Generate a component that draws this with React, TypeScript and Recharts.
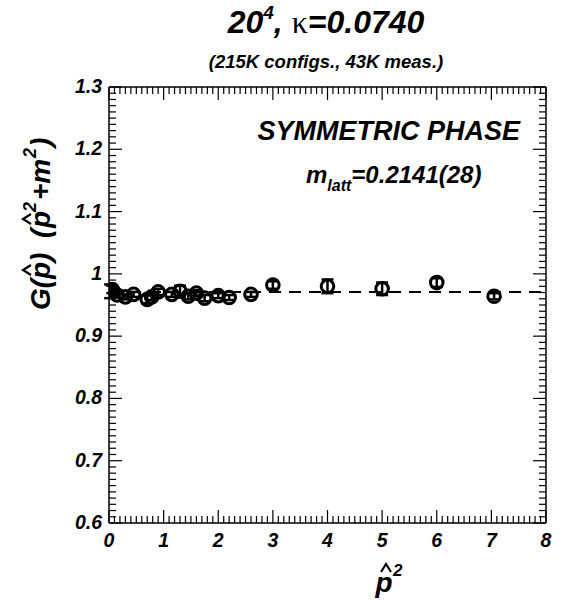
import React from 'react';
import {
  ComposedChart,
  Scatter,
  XAxis,
  YAxis,
  ReferenceLine,
  ErrorBar,
} from 'recharts';

// p-hat squared, G(p)(p^2+m^2) and its error
const p2 = [0.02, 0.06, 0.15, 0.3, 0.45, 0.7, 0.78, 0.9, 1.15, 1.3, 1.45, 1.6, 1.75, 2.0, 2.2, 2.6, 3.0, 4.0, 5.0, 6.0, 7.05];
const G = [0.972, 0.975, 0.966, 0.963, 0.967, 0.959, 0.963, 0.971, 0.967, 0.972, 0.964, 0.969, 0.961, 0.965, 0.962, 0.967, 0.982, 0.98, 0.976, 0.986, 0.964];
const dG = [0.011, 0.006, 0.004, 0.004, 0.004, 0.006, 0.005, 0.005, 0.004, 0.009, 0.005, 0.005, 0.005, 0.004, 0.004, 0.004, 0.006, 0.011, 0.010, 0.007, 0.005];
const fitValue = 0.971;

const xTickLabels = ['0', '1', '2', '3', '4', '5', '6', '7', '8'];
const yTickLabels = ['0.6', '0.7', '0.8', '0.9', '1', '1.1', '1.2', '1.3'];

const W = 562;
const H = 601;
const LEFT = 109;
const RIGHT = 546;
const TOP = 87;
const BOTTOM = 523;

const FONT = '"Liberation Sans", Arial, Helvetica, sans-serif';

const data = p2.map((x, i) => ({ x, y: G[i], err: dG[i] }));

// minor ticks every 0.1 on x, 0.01 on y
const xTicks = Array.from({ length: 81 }, (_, i) => i / 10);
const yTicks = Array.from({ length: 71 }, (_, i) => (60 + i) / 100);

function XTick(props: any) {
  const { x, payload } = props;
  const i = Math.round(payload.value * 10);
  const major = i % 10 === 0;
  const len = major ? 13 : 7;
  return (
    <g>
      <line x1={x} x2={x} y1={BOTTOM} y2={BOTTOM - len} stroke="#000" strokeWidth={1.2} />
      <line x1={x} x2={x} y1={TOP} y2={TOP + len} stroke="#000" strokeWidth={1.2} />
      {major && (
        <text x={x} y={BOTTOM + 24} textAnchor="middle" fontFamily={FONT} fontSize={19.5}
          fontWeight="bold" fontStyle="italic" fill="#000">
          {xTickLabels[i / 10]}
        </text>
      )}
    </g>
  );
}

function YTick(props: any) {
  const { y, payload } = props;
  const i = Math.round(payload.value * 100) - 60;
  const major = i % 10 === 0;
  const len = major ? 13 : 7;
  return (
    <g>
      <line x1={LEFT} x2={LEFT + len} y1={y} y2={y} stroke="#000" strokeWidth={1.2} />
      <line x1={RIGHT} x2={RIGHT - len} y1={y} y2={y} stroke="#000" strokeWidth={1.2} />
      {major && (
        <text x={LEFT - 7} y={y + 6} textAnchor="end" fontFamily={FONT} fontSize={19.5}
          fontWeight="bold" fontStyle="italic" fill="#000">
          {yTickLabels[i / 10]}
        </text>
      )}
    </g>
  );
}

function Marker(props: any) {
  const { cx, cy } = props;
  return <circle cx={cx} cy={cy} r={6.3} fill="none" stroke="#000" strokeWidth={3} />;
}

function Hat({ x, y }: { x: number; y: number }) {
  return (
    <polyline points={`${x - 5},${y + 8} ${x},${y} ${x + 5},${y + 8}`}
      fill="none" stroke="#000" strokeWidth={2.2} />
  );
}

const bi = { fontFamily: FONT, fontWeight: 'bold' as const, fontStyle: 'italic' as const, fill: '#000' };

function Labels() {
  return (
    <svg width={W} height={H} style={{ position: 'absolute', left: 0, top: 0, pointerEvents: 'none' }}>
      <text x={326} y={33} textAnchor="middle" fontSize={32} {...bi}>
        20<tspan dy={-14} fontSize={19}>4</tspan>
        <tspan dy={14}>, </tspan>
        <tspan fontFamily='"Liberation Serif", "Times New Roman", serif' fontStyle="normal" fontWeight="normal">κ</tspan>
        <tspan>=0.0740</tspan>
      </text>
      <text x={326} y={68} textAnchor="middle" fontSize={18.5} {...bi}>
        (215K configs., 43K meas.)
      </text>

      <text x={520} y={140} textAnchor="end" fontSize={27} {...bi}>SYMMETRIC PHASE</text>
      <text x={306} y={183} fontSize={24} {...bi}>
        m<tspan dy={8} fontSize={16}>latt</tspan>
        <tspan dy={-8}>=0.2141(28)</tspan>
      </text>

      {/* y axis title */}
      <g transform="translate(50, 310) rotate(-90)">
        <text x={0} y={0} fontSize={28} {...bi}>G(</text>
        <text x={31} y={0} fontSize={28} {...bi}>p</text>
        <Hat x={40} y={-27} />
        <text x={48} y={0} fontSize={28} {...bi}>)</text>
        <text x={72} y={0} fontSize={28} {...bi}>(</text>
        <text x={82} y={0} fontSize={28} {...bi}>p</text>
        <Hat x={91} y={-27} />
        <text x={98} y={-14} fontSize={18} {...bi}>2</text>
        <text x={110} y={0} fontSize={28} {...bi}>+m</text>
        <text x={152} y={-14} fontSize={18} {...bi}>2</text>
        <text x={163} y={0} fontSize={28} {...bi}>)</text>
      </g>

      {/* x axis title */}
      <text x={384} y={592} textAnchor="middle" fontSize={28} {...bi}>p</text>
      <Hat x={386} y={564} />
      <text x={393} y={576} fontSize={17} {...bi}>2</text>
    </svg>
  );
}

export default function App() {
  return (
    <div style={{ position: 'absolute', left: 0, top: 0, width: W, height: H, background: '#fff' }}>
      <ComposedChart width={W} height={H} data={data}
        margin={{ top: TOP, right: W - RIGHT, bottom: 48, left: 0 }}>
        <XAxis type="number" dataKey="x" domain={[0, 8]} ticks={xTicks} interval={0}
          tickLine={false} tick={<XTick />} height={30} allowDataOverflow
          axisLine={{ stroke: '#000', strokeWidth: 1.5 }} />
        <YAxis type="number" dataKey="y" domain={[0.6, 1.3]} ticks={yTicks} interval={0}
          tickLine={false} tick={<YTick />} width={LEFT} allowDataOverflow
          axisLine={{ stroke: '#000', strokeWidth: 1.5 }} />
        <ReferenceLine y={1.3} stroke="#000" strokeWidth={1.5} />
        <ReferenceLine x={8} stroke="#000" strokeWidth={1.5} />
        <ReferenceLine y={fitValue} stroke="#000" strokeWidth={2} strokeDasharray="12 8" />
        <Scatter dataKey="y" fill="none" shape={<Marker />} isAnimationActive={false}>
          <ErrorBar dataKey="err" direction="y" width={6} stroke="#000" strokeWidth={2.5} />
        </Scatter>
      </ComposedChart>
      <Labels />
    </div>
  );
}
